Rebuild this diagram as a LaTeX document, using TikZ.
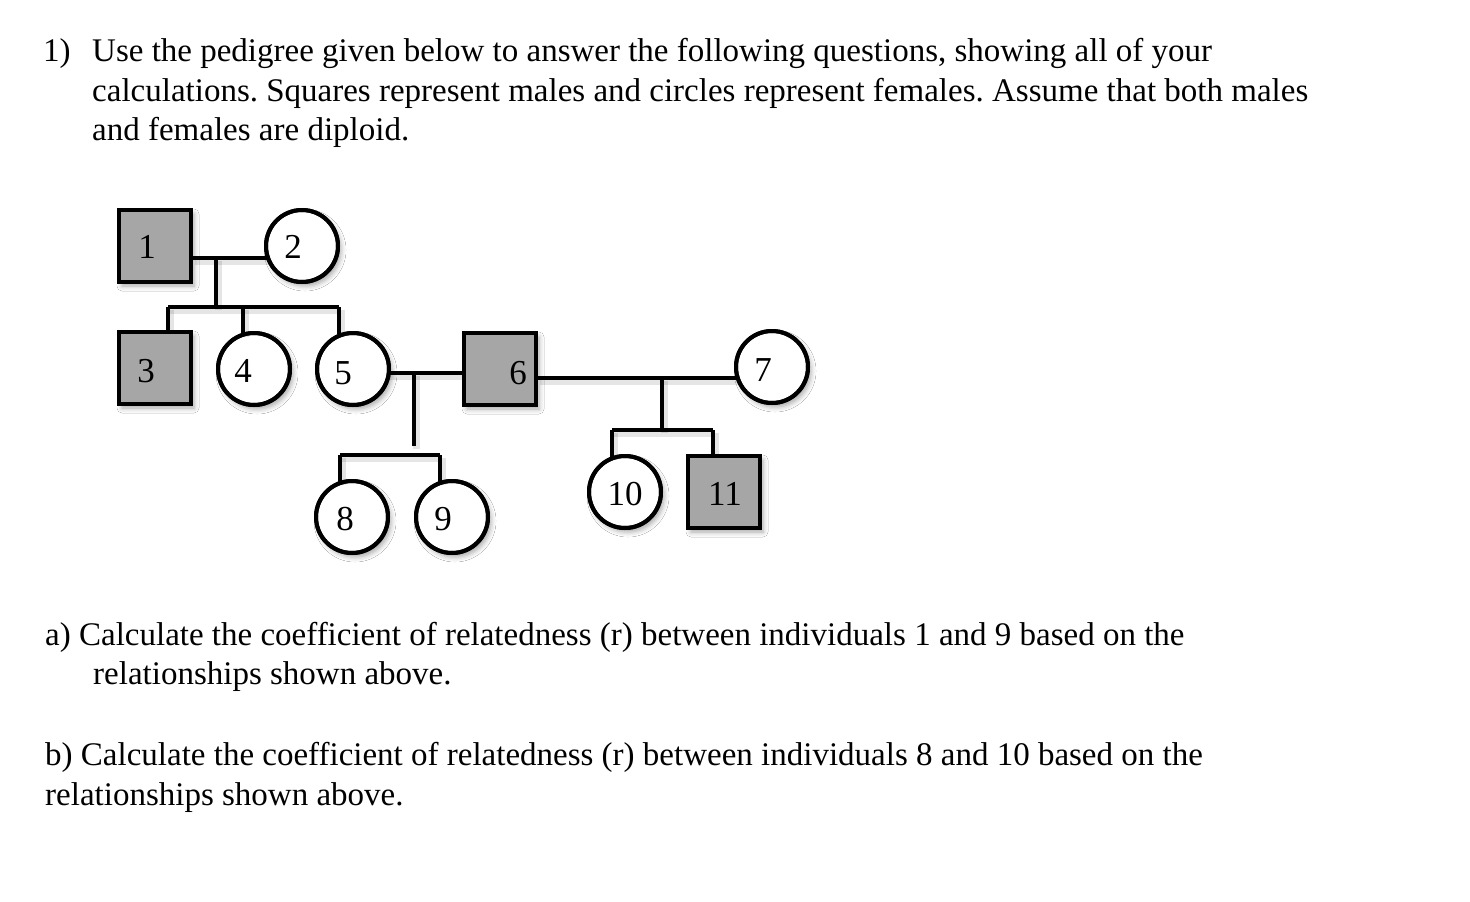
\documentclass[tikz,border=0pt]{standalone}
\usepackage{fontspec}
\setmainfont{Liberation Serif}
\frenchspacing
\usetikzlibrary{shadows.blur,calc}
\definecolor{sqfill}{RGB}{166,166,166}
\tikzset{
  shd/.style={blur shadow={shadow xshift=3pt, shadow yshift=-4pt, shadow blur radius=5pt, shadow opacity=35}},
  male/.style={shape=rectangle, draw=black, line width=4pt, fill=sqfill, minimum size=72pt, inner sep=0pt, shd},
  female/.style={shape=circle, draw=black, line width=4pt, fill=white, minimum size=72pt, inner sep=0pt, shd},
  num/.style={inner sep=0pt, font=\fontsize{35}{35}\selectfont},
  txt/.style={anchor=base west, inner sep=0pt, font=\fontsize{33}{39.5}\selectfont},
  link/.style={line width=4pt, preaction={draw=black, draw opacity=0.10, line width=7pt, transform canvas={xshift=2pt, yshift=-3pt}}},
}
\begin{document}
\begin{tikzpicture}[x=1pt, y=-1pt]
\useasboundingbox (0,0) rectangle (1470,902);
\fill[white] (0,0) rectangle (1470,902);

% junction coordinates
\coordinate (m12) at (216,258);
\coordinate (k3)  at (168,307);
\coordinate (k4)  at (243,307);
\coordinate (k5)  at (339,307);
\coordinate (m56) at (414,373);
\coordinate (e56) at (414,446);
\coordinate (k8)  at (340,455);
\coordinate (k9)  at (440,455);
\coordinate (m67) at (662,378);
\coordinate (k10) at (612,430);
\coordinate (k11) at (713,430);

% question text
\node[txt] (q1n) at (43,61) {1)};
\node[txt] (q1a) at (92,61) {Use the pedigree given below to answer the following questions, showing all of your};
\node[txt] (q1b) at (92,101) {calculations. Squares represent males and circles represent females. Assume that both males};
\node[txt] (q1c) at (92,140) {and females are diploid.};

\node[txt] (qa1) at (45,645) {a) Calculate the coefficient of relatedness (r) between individuals 1 and 9 based on the};
\node[txt] (qa2) at (93,684) {relationships shown above.};
\node[txt] (qb1) at (45,765) {b) Calculate the coefficient of relatedness (r) between individuals 8 and 10 based on the};
\node[txt] (qb2) at (45,805) {relationships shown above.};

% individuals
\node[male]   (n1)  at (155,246) {};
\node[female] (n2)  at (302,246) {};
\node[male]   (n3)  at (155,368) {};
\node[female] (n4)  at (254,369) {};
\node[female] (n5)  at (353,369) {};
\node[male]   (n6)  at (500,369) {};
\node[female] (n7)  at (772,367) {};
\node[female] (n8)  at (352,517) {};
\node[female] (n9)  at (452,517) {};
\node[female] (n10) at (625,492) {};
\node[male]   (n11) at (724,492) {};

% family 1 x 2
\draw[link] (n1.east |- m12) -- ($(n2.west |- m12)+(3,0)$);
\draw[link] (m12) -- (m12 |- k3);
\draw[link] (k3) -- (k5);
\draw[link] (k3) -- (k3 |- n3.north);
\draw[link] (k4) -- ($(k4 |- n4.north)+(0,3)$);
\draw[link] (k5) -- ($(k5 |- n5.north)+(0,3)$);
% family 5 x 6
\draw[link] ($(n5.east |- m56)+(-3,0)$) -- (n6.west |- m56);
\draw[link] (m56) -- (e56);
\draw[link] (k8) -- (k9);
\draw[link] (k8) -- ($(k8 |- n8.north)+(0,3)$);
\draw[link] (k9) -- ($(k9 |- n9.north)+(0,3)$);
% family 6 x 7
\draw[link] (n6.east |- m67) -- ($(n7.west |- m67)+(3,0)$);
\draw[link] (m67) -- (m67 |- k10);
\draw[link] (k10) -- (k11);
\draw[link] (k10) -- ($(k10 |- n10.north)+(0,3)$);
\draw[link] (k11) -- (k11 |- n11.north);

% redraw outlines over connector ends
\draw[line width=4pt] (n2.center) circle[radius=36pt];
\draw[line width=4pt] (n4.center) circle[radius=36pt];
\draw[line width=4pt] (n5.center) circle[radius=36pt];
\draw[line width=4pt] (n7.center) circle[radius=36pt];
\draw[line width=4pt] (n8.center) circle[radius=36pt];
\draw[line width=4pt] (n9.center) circle[radius=36pt];
\draw[line width=4pt] (n10.center) circle[radius=36pt];

\node[num] (l1)  at (147,247) {1};
\node[num] (l2)  at (293,247) {2};
\node[num] (l3)  at (146,371) {3};
\node[num] (l4)  at (243,371) {4};
\node[num] (l5)  at (343,373) {5};
\node[num] (l6)  at (518,373) {6};
\node[num] (l7)  at (763,370) {7};
\node[num] (l8)  at (345,519) {8};
\node[num] (l9)  at (443,519) {9};
\node[num] (l10) at (625,494) {10};
\node[num] (l11) at (725,494) {11};
\end{tikzpicture}
\end{document}
